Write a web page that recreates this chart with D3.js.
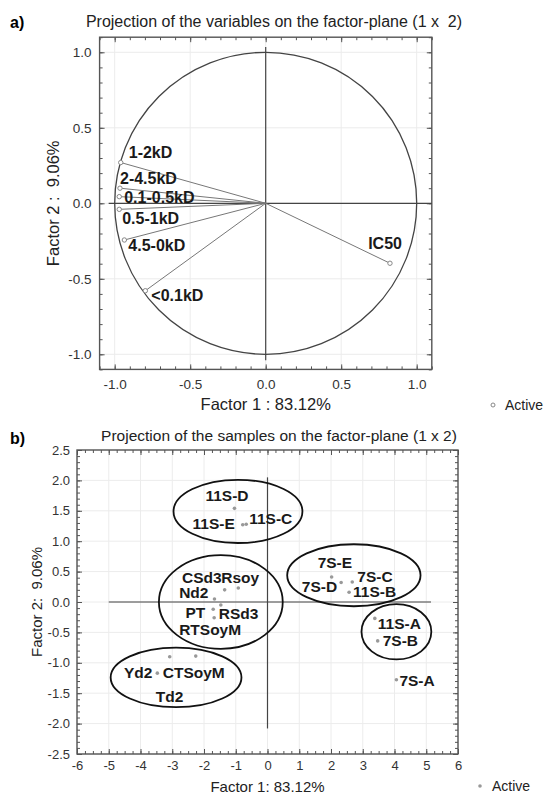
<!DOCTYPE html>
<html>
<head>
<meta charset="utf-8">
<script src="https://cdnjs.cloudflare.com/ajax/libs/d3/7.8.5/d3.min.js"></script>
<style>
  body { margin: 0; background: #fff; }
  text { font-family: "Liberation Sans", Arial, sans-serif; }
</style>
</head>
<body>
<div id="chart"></div>
<script>
// a) variables (loadings on factor 1 / factor 2)
var varNames = ["1-2kD", "2-4.5kD", "0.1-0.5kD", "0.5-1kD", "4.5-0kD", "<0.1kD", "IC50"];
var varF1 = [-0.96, -0.965, -0.97, -0.97, -0.936, -0.797, 0.823];
var varF2 = [0.27, 0.10, 0.044, -0.04, -0.243, -0.579, -0.397];

// b) samples (scores on factor 1 / factor 2)
var sampleNames = ["11S-D", "11S-E", "11S-C", "CSd3", "Rsoy", "Nd2", "RSd3", "PT", "RTSoyM",
  "Yd2", "CTSoyM", "Td2", "7S-E", "7S-D", "7S-C", "11S-B", "11S-A", "7S-B", "7S-A"];
var sampleF1 = [-1.04, -0.78, -0.67, -1.35, -0.92, -1.67, -1.47, -1.71, -1.68,
  -3.47, -2.26, -3.08, 2.02, 2.32, 2.67, 2.57, 3.38, 3.47, 4.06];
var sampleF2 = [1.54, 1.27, 1.28, 0.20, 0.23, 0.05, -0.05, -0.12, -0.26,
  -1.17, -0.89, -0.90, 0.41, 0.32, 0.33, 0.16, -0.27, -0.64, -1.28];

// groups circled by hand in panel b (centre and radii in factor units)
var groupCx = [-0.93, -1.47, -2.88, 2.72, 4.06];
var groupCy = [1.49, 0.0, -1.24, 0.44, -0.49];
var groupRx = [2.03, 1.95, 2.06, 2.1, 1.1];
var groupRy = [0.52, 0.77, 0.49, 0.51, 0.455];

var ticksA = [-1.0, -0.5, 0.0, 0.5, 1.0];
var ticksBx = [-6, -5, -4, -3, -2, -1, 0, 1, 2, 3, 4, 5, 6];
var ticksBy = [-2.5, -2.0, -1.5, -1.0, -0.5, 0.0, 0.5, 1.0, 1.5, 2.0, 2.5];

// label placement (pixels from the point: dx, dy, anchor)
var varLabelPos = {
  "1-2kD": [8, -5, "start"], "2-4.5kD": [0, -4, "start"], "0.1-0.5kD": [5, 6, "start"],
  "0.5-1kD": [3, 15, "start"], "4.5-0kD": [4, 11, "start"], "<0.1kD": [6, 10, "start"],
  "IC50": [12, -14, "end"]
};
var sampleLabelPos = {
  "11S-D": [-29, -7, "start"], "11S-E": [-8, 4, "end"], "11S-C": [3, 0, "start"],
  "CSd3": [-3, -7, "end"], "Rsoy": [-17, -5, "start"], "Nd2": [-6, -1, "end"],
  "RSd3": [-2, 14, "start"], "PT": [-8, 9, "end"], "RTSoyM": [-35, 17, "start"],
  "Yd2": [-5, 5, "end"], "CTSoyM": [-33, 22, "start"], "Td2": [-14, 45, "start"],
  "7S-E": [-14, -9, "start"], "7S-D": [-4, 9, "end"], "7S-C": [5, 0, "start"],
  "11S-B": [4, 5, "start"], "11S-A": [3, 11, "start"], "7S-B": [5, 5, "start"],
  "7S-A": [3, 6, "start"]
};

var svg = d3.select("#chart").append("svg")
    .attr("width", 547)
    .attr("height", 795);

var frameColor = "#555";

function frameAxes(g, x, y, xt, yt, xMinor, yMinor, xFmt, yFmt, xPad, yPad, tickFont) {
  var x0 = x.range()[0], x1 = x.range()[1], y0 = y.range()[0], y1 = y.range()[1];

  // grid
  g.append("g").selectAll("line").data(xt).enter().append("line")
      .attr("x1", function(d) { return x(d); }).attr("x2", function(d) { return x(d); })
      .attr("y1", y0).attr("y2", y1)
      .style("stroke", "#ececec");
  g.append("g").selectAll("line").data(yt).enter().append("line")
      .attr("y1", function(d) { return y(d); }).attr("y2", function(d) { return y(d); })
      .attr("x1", x0).attr("x2", x1)
      .style("stroke", "#ececec");

  var axes = [
    [d3.axisBottom(x).tickValues(xt).tickSize(-5).tickPadding(xPad).tickFormat(xFmt), "translate(0," + y0 + ")"],
    [d3.axisBottom(x).tickValues(xMinor).tickSize(-3).tickFormat(""), "translate(0," + y0 + ")"],
    [d3.axisTop(x).tickValues(xt).tickSize(-5).tickFormat(""), "translate(0," + y1 + ")"],
    [d3.axisTop(x).tickValues(xMinor).tickSize(-3).tickFormat(""), "translate(0," + y1 + ")"],
    [d3.axisLeft(y).tickValues(yt).tickSize(-5).tickPadding(yPad).tickFormat(yFmt), "translate(" + x0 + ",0)"],
    [d3.axisLeft(y).tickValues(yMinor).tickSize(-3).tickFormat(""), "translate(" + x0 + ",0)"],
    [d3.axisRight(y).tickValues(yt).tickSize(-5).tickFormat(""), "translate(" + x1 + ",0)"],
    [d3.axisRight(y).tickValues(yMinor).tickSize(-3).tickFormat(""), "translate(" + x1 + ",0)"]
  ];
  axes.forEach(function(a) {
    var ag = g.append("g").attr("transform", a[1]).call(a[0]);
    ag.select(".domain").remove();
    ag.selectAll("line").style("stroke", frameColor);
    ag.selectAll("text")
        .style("font-family", "'Liberation Sans', Arial, sans-serif")
        .style("font-size", tickFont)
        .style("fill", "#333");
  });

  g.append("rect")
      .attr("x", x0).attr("y", y1)
      .attr("width", x1 - x0).attr("height", y0 - y1)
      .style("fill", "none")
      .style("stroke", frameColor)
      .style("stroke-width", 1.4);
}

function range(a, b, step) {
  var out = [];
  var n = Math.round((b - a) / step);
  for (var i = 0; i <= n; i++) out.push(+(a + i * step).toFixed(3));
  return out;
}

var fmt1 = function(d) { return d.toFixed(1); };
var fmt0 = function(d) { return String(d); };

// ---------------- panel a ----------------
var xa = d3.scaleLinear().domain([-1.1, 1.1]).range([99.6, 431.8]);
var ya = d3.scaleLinear().domain([-1.1, 1.1]).range([369.4, 37.2]);
var ga = svg.append("g");

frameAxes(ga, xa, ya, ticksA, ticksA, range(-1.1, 1.1, 0.1), range(-1.1, 1.1, 0.1),
  fmt1, fmt1, 10, 8, "13.5px");

// axes through origin
ga.append("line")
    .attr("x1", xa(-1.04)).attr("x2", xa(1.1))
    .attr("y1", ya(0)).attr("y2", ya(0))
    .style("stroke", "#444").style("stroke-width", 1.2);
ga.append("line")
    .attr("x1", xa(0)).attr("x2", xa(0))
    .attr("y1", ya(1.035)).attr("y2", ya(-1.04))
    .style("stroke", "#444").style("stroke-width", 1.2);

// unit circle
ga.append("ellipse")
    .attr("cx", xa(0)).attr("cy", ya(0))
    .attr("rx", xa(1) - xa(0)).attr("ry", ya(0) - ya(1))
    .style("fill", "none").style("stroke", "#444").style("stroke-width", 1.3);

var varData = varNames.map(function(n, i) { return {name: n, f1: varF1[i], f2: varF2[i]}; });

ga.selectAll(".vec").data(varData).enter().append("line")
    .attr("class", "vec")
    .attr("x1", xa(0)).attr("y1", ya(0))
    .attr("x2", function(d) { return xa(d.f1); })
    .attr("y2", function(d) { return ya(d.f2); })
    .style("stroke", "#777").style("stroke-width", 1);

ga.selectAll(".pt").data(varData).enter().append("circle")
    .attr("class", "pt")
    .attr("cx", function(d) { return xa(d.f1); })
    .attr("cy", function(d) { return ya(d.f2); })
    .attr("r", 2.2)
    .style("fill", "#fff").style("stroke", "#888").style("stroke-width", 1);

ga.selectAll(".lab").data(varData).enter().append("text")
    .attr("class", "lab")
    .attr("x", function(d) { return xa(d.f1) + varLabelPos[d.name][0]; })
    .attr("y", function(d) { return ya(d.f2) + varLabelPos[d.name][1]; })
    .attr("text-anchor", function(d) { return varLabelPos[d.name][2]; })
    .style("font-size", "16px").style("font-weight", "bold").style("fill", "#1a1a1a")
    .text(function(d) { return d.name; });

svg.append("text")
    .attr("x", 10).attr("y", 28)
    .style("font-size", "16px").style("font-weight", "bold")
    .text("a)");
svg.append("text")
    .attr("x", 274).attr("y", 27)
    .attr("text-anchor", "middle")
    .style("font-size", "16px").style("fill", "#222").style("white-space", "pre")
    .text("Projection of the variables on the factor-plane (1 x  2)");
svg.append("text")
    .attr("x", xa(0)).attr("y", 410)
    .attr("text-anchor", "middle")
    .style("font-size", "16.5px").style("fill", "#222")
    .text("Factor 1 : 83.12%");
svg.append("text")
    .attr("transform", "translate(59," + ya(0) + ") rotate(-90)")
    .attr("text-anchor", "middle")
    .style("font-size", "16.5px").style("fill", "#222").style("white-space", "pre")
    .text("Factor 2 :  9.06%");
svg.append("circle")
    .attr("cx", 493).attr("cy", 405).attr("r", 2)
    .style("fill", "#fff").style("stroke", "#888");
svg.append("text")
    .attr("x", 505).attr("y", 410)
    .style("font-size", "14px").style("fill", "#222")
    .text("Active");

// ---------------- panel b ----------------
var xb = d3.scaleLinear().domain([-6, 6]).range([77, 458]);
var yb = d3.scaleLinear().domain([-2.5, 2.5]).range([754, 450]);
var gb = svg.append("g");

frameAxes(gb, xb, yb, ticksBx, ticksBy, range(-6, 6, 0.25), range(-2.5, 2.5, 0.1),
  fmt0, fmt1, 7, 7, "13px");

// axes through origin
gb.append("line")
    .attr("x1", xb(-5)).attr("x2", xb(5.15))
    .attr("y1", yb(0)).attr("y2", yb(0))
    .style("stroke", "#444").style("stroke-width", 1.2);
gb.append("line")
    .attr("x1", xb(0)).attr("x2", xb(0))
    .attr("y1", yb(2.05)).attr("y2", yb(-2.08))
    .style("stroke", "#444").style("stroke-width", 1.2);

var sampleData = sampleNames.map(function(n, i) { return {name: n, f1: sampleF1[i], f2: sampleF2[i]}; });
var groupData = groupCx.map(function(c, i) { return {cx: c, cy: groupCy[i], rx: groupRx[i], ry: groupRy[i]}; });

gb.selectAll(".grp").data(groupData).enter().append("ellipse")
    .attr("class", "grp")
    .attr("cx", function(d) { return xb(d.cx); })
    .attr("cy", function(d) { return yb(d.cy); })
    .attr("rx", function(d) { return xb(d.rx) - xb(0); })
    .attr("ry", function(d) { return yb(0) - yb(d.ry); })
    .style("fill", "none").style("stroke", "#111").style("stroke-width", 1.8);

gb.selectAll(".pt").data(sampleData).enter().append("circle")
    .attr("class", "pt")
    .attr("cx", function(d) { return xb(d.f1); })
    .attr("cy", function(d) { return yb(d.f2); })
    .attr("r", 1.8)
    .style("fill", "#999");

gb.selectAll(".lab").data(sampleData).enter().append("text")
    .attr("class", "lab")
    .attr("x", function(d) { return xb(d.f1) + sampleLabelPos[d.name][0]; })
    .attr("y", function(d) { return yb(d.f2) + sampleLabelPos[d.name][1]; })
    .attr("text-anchor", function(d) { return sampleLabelPos[d.name][2]; })
    .style("font-size", "15.5px").style("font-weight", "bold").style("fill", "#1a1a1a")
    .text(function(d) { return d.name; });

svg.append("text")
    .attr("x", 10).attr("y", 444)
    .style("font-size", "16px").style("font-weight", "bold")
    .text("b)");
svg.append("text")
    .attr("x", 279).attr("y", 441)
    .attr("text-anchor", "middle")
    .style("font-size", "15.5px").style("fill", "#222")
    .text("Projection of the samples on the factor-plane (1 x 2)");
svg.append("text")
    .attr("x", xb(0)).attr("y", 792)
    .attr("text-anchor", "middle")
    .style("font-size", "15px").style("fill", "#222")
    .text("Factor 1: 83.12%");
svg.append("text")
    .attr("transform", "translate(42," + yb(0) + ") rotate(-90)")
    .attr("text-anchor", "middle")
    .style("font-size", "15px").style("fill", "#222").style("white-space", "pre")
    .text("Factor 2:  9.06%");
svg.append("circle")
    .attr("cx", 480).attr("cy", 786).attr("r", 1.8)
    .style("fill", "#999");
svg.append("text")
    .attr("x", 492).attr("y", 791)
    .style("font-size", "14px").style("fill", "#222")
    .text("Active");
</script>
</body>
</html>
